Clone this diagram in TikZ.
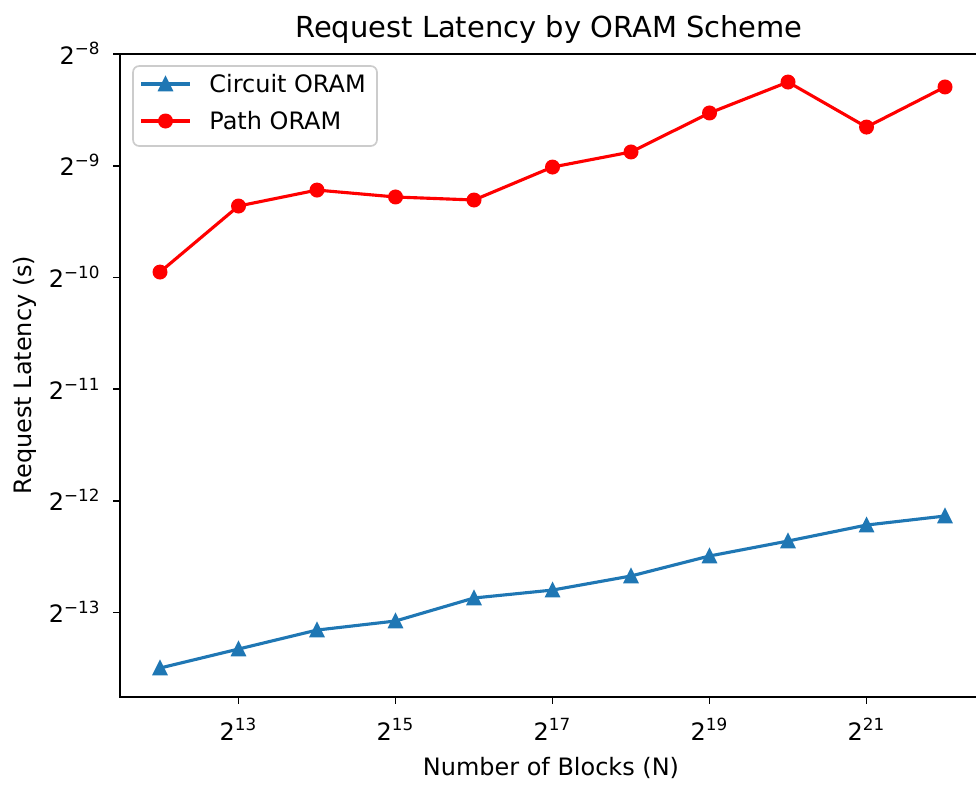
\documentclass[tikz,border=0pt]{standalone}
\usepackage{fontspec}
\setmainfont{DejaVu Sans}
\definecolor{tabblue}{HTML}{1F77B4}
\definecolor{legendgray}{HTML}{CCCCCC}

\begin{document}
\begin{tikzpicture}[x=0.48pt, y=-0.48pt,
    spine/.style={line width=0.8pt, line cap=rect},
    tickmark/.style={line width=0.8pt},
    ticklabel/.style={font=\fontsize{11.5}{13}\selectfont, inner sep=0pt},
    circuitline/.style={tabblue, line width=1.5pt, line join=round},
    pathline/.style={red, line width=1.5pt, line join=round},
    trimark/.style={fill=tabblue, draw=tabblue, line width=1pt},
    dotmark/.style={fill=red}]
    \useasboundingbox (0,0) rectangle (976,785);

    % axes
    \draw[spine] (976,54) -- (120,54) -- (120,697) -- (976,697);

    \draw[tickmark] (113,54) -- (120,54);
    \draw[tickmark] (113,165.7) -- (120,165.7);
    \draw[tickmark] (113,277.4) -- (120,277.4);
    \draw[tickmark] (113,389.1) -- (120,389.1);
    \draw[tickmark] (113,500.8) -- (120,500.8);
    \draw[tickmark] (113,612.5) -- (120,612.5);
    \node[ticklabel, anchor=base east] (ytick8) at (101,64) {2\textsuperscript{−8}};
    \node[ticklabel, anchor=base east] (ytick9) at (101,175.7) {2\textsuperscript{−9}};
    \node[ticklabel, anchor=base east] (ytick10) at (101,287.4) {2\textsuperscript{−10}};
    \node[ticklabel, anchor=base east] (ytick11) at (101,399.1) {2\textsuperscript{−11}};
    \node[ticklabel, anchor=base east] (ytick12) at (101,510.8) {2\textsuperscript{−12}};
    \node[ticklabel, anchor=base east] (ytick13) at (101,622.5) {2\textsuperscript{−13}};

    \draw[tickmark] (238.5,697) -- (238.5,704);
    \draw[tickmark] (395.5,697) -- (395.5,704);
    \draw[tickmark] (552.5,697) -- (552.5,704);
    \draw[tickmark] (709.5,697) -- (709.5,704);
    \draw[tickmark] (866.5,697) -- (866.5,704);
    \node[ticklabel, anchor=base] (xtick13) at (238.5,740) {2\textsuperscript{13}};
    \node[ticklabel, anchor=base] (xtick15) at (395.5,740) {2\textsuperscript{15}};
    \node[ticklabel, anchor=base] (xtick17) at (552.5,740) {2\textsuperscript{17}};
    \node[ticklabel, anchor=base] (xtick19) at (709.5,740) {2\textsuperscript{19}};
    \node[ticklabel, anchor=base] (xtick21) at (866.5,740) {2\textsuperscript{21}};

    \node[anchor=base, inner sep=0pt, font=\fontsize{13.9}{16}\selectfont] (title) at (549,37) {Request Latency by ORAM Scheme};
    \node[anchor=base, inner sep=0pt, font=\fontsize{11.5}{13}\selectfont] (xlabel) at (551,775) {Number of Blocks (N)};
    \node[rotate=90, inner sep=0pt, font=\fontsize{11.5}{13}\selectfont] (ylabel) at (25,375) {Request Latency (s)};

    % data, x = log2 N, y = log2 latency
    \begin{scope}[shift={(-782,-839.6)}, x={(37.68pt,0)}, y={(0,53.616pt)}]
    \draw[pathline] (12,-9.952) -- (13,-9.361) -- (14,-9.218) -- (15,-9.280) -- (16,-9.307)
        -- (17,-9.012) -- (18,-8.877) -- (19,-8.528) -- (20,-8.251) -- (21,-8.654) -- (22,-8.295);
    \fill[dotmark] (12,-9.952) circle (3.6pt);
    \fill[dotmark] (13,-9.361) circle (3.6pt);
    \fill[dotmark] (14,-9.218) circle (3.6pt);
    \fill[dotmark] (15,-9.280) circle (3.6pt);
    \fill[dotmark] (16,-9.307) circle (3.6pt);
    \fill[dotmark] (17,-9.012) circle (3.6pt);
    \fill[dotmark] (18,-8.877) circle (3.6pt);
    \fill[dotmark] (19,-8.528) circle (3.6pt);
    \fill[dotmark] (20,-8.251) circle (3.6pt);
    \fill[dotmark] (21,-8.654) circle (3.6pt);
    \fill[dotmark] (22,-8.295) circle (3.6pt);

    \draw[circuitline] (12,-13.497) -- (13,-13.327) -- (14,-13.157) -- (15,-13.076) -- (16,-12.870)
        -- (17,-12.799) -- (18,-12.673) -- (19,-12.494) -- (20,-12.360) -- (21,-12.217) -- (22,-12.136);
    \filldraw[trimark] (12,-13.497) +(0,3pt) -- +(-3pt,-3pt) -- +(3pt,-3pt) -- cycle;
    \filldraw[trimark] (13,-13.327) +(0,3pt) -- +(-3pt,-3pt) -- +(3pt,-3pt) -- cycle;
    \filldraw[trimark] (14,-13.157) +(0,3pt) -- +(-3pt,-3pt) -- +(3pt,-3pt) -- cycle;
    \filldraw[trimark] (15,-13.076) +(0,3pt) -- +(-3pt,-3pt) -- +(3pt,-3pt) -- cycle;
    \filldraw[trimark] (16,-12.870) +(0,3pt) -- +(-3pt,-3pt) -- +(3pt,-3pt) -- cycle;
    \filldraw[trimark] (17,-12.799) +(0,3pt) -- +(-3pt,-3pt) -- +(3pt,-3pt) -- cycle;
    \filldraw[trimark] (18,-12.673) +(0,3pt) -- +(-3pt,-3pt) -- +(3pt,-3pt) -- cycle;
    \filldraw[trimark] (19,-12.494) +(0,3pt) -- +(-3pt,-3pt) -- +(3pt,-3pt) -- cycle;
    \filldraw[trimark] (20,-12.360) +(0,3pt) -- +(-3pt,-3pt) -- +(3pt,-3pt) -- cycle;
    \filldraw[trimark] (21,-12.217) +(0,3pt) -- +(-3pt,-3pt) -- +(3pt,-3pt) -- cycle;
    \filldraw[trimark] (22,-12.136) +(0,3pt) -- +(-3pt,-3pt) -- +(3pt,-3pt) -- cycle;
    \end{scope}

    % legend
    \draw[legendgray, fill=white, rounded corners=3pt, line width=0.8pt] (133,66) rectangle (377,146);
    \draw[circuitline] (141,84) -- (190,84);
    \filldraw[trimark] (165.5,84) +(0,3pt) -- +(-3pt,-3pt) -- +(3pt,-3pt) -- cycle;
    \node[anchor=west, inner sep=0pt, font=\fontsize{11.5}{13}\selectfont] (circuitkey) at (209,84) {Circuit ORAM};
    \draw[pathline] (141,121) -- (190,121);
    \fill[dotmark] (165.5,121) circle (3.6pt);
    \node[anchor=west, inner sep=0pt, font=\fontsize{11.5}{13}\selectfont] (pathkey) at (209,121) {Path ORAM};
\end{tikzpicture}
\end{document}
